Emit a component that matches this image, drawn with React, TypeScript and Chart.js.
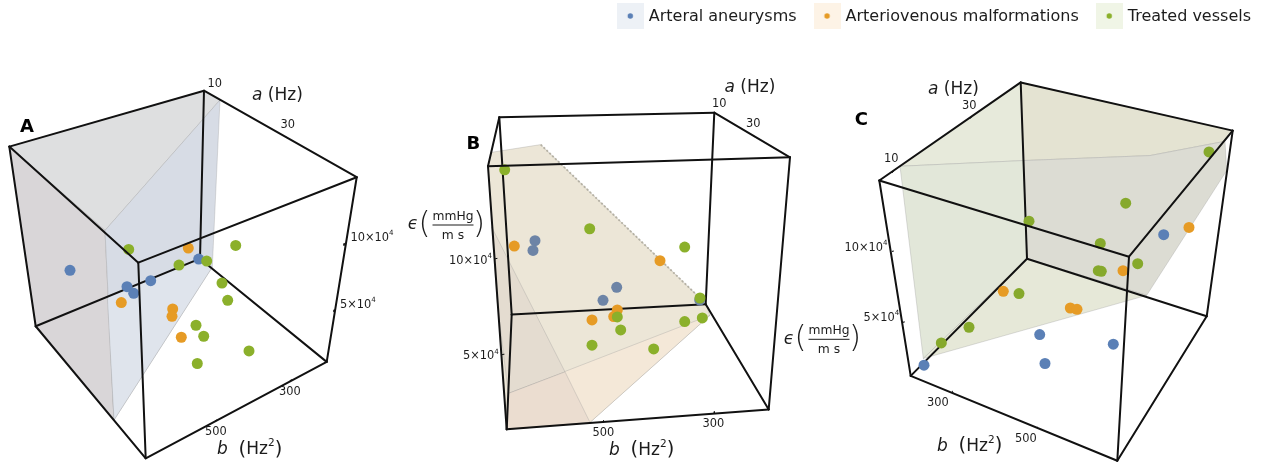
import React, { useEffect, useRef } from "react";
import { Chart, registerables } from "chart.js";

Chart.register(...registerables);

type Pt = [number, number];

const seriesNames = ["Arteral aneurysms", "Arteriovenous malformations", "Treated vessels"];
const seriesColors = ["#5b80b6", "#e69b25", "#8bb02b"];
const swatchColors = ["#edf1f6", "#fdf3e6", "#f0f5e6"];

// Projected positions (screen-plane coordinates)
const panelAAneurysms: Pt[] = [[70, 270], [127, 286.3], [133.7, 293], [150.7, 280.3], [198.7, 258.7]];
const panelAMalformations: Pt[] = [[121.3, 302.3], [172.7, 308.7], [172, 316], [181.3, 337], [188.3, 247.7]];
const panelATreated: Pt[] = [[128.7, 249], [179, 264.7], [206.7, 260.7], [235.7, 245], [222, 282.7], [227.7, 300], [196, 325], [203.7, 336], [249, 350.7], [197.3, 363.3]];

const panelBAneurysms: Pt[] = [[535, 240.3], [533, 250], [616.7, 287], [603, 300], [699.7, 299.7]];
const panelBMalformations: Pt[] = [[514.3, 245.7], [660, 260.3], [617.3, 309.7], [613.7, 316.3], [592, 319.7]];
const panelBTreated: Pt[] = [[504.7, 169.3], [589.7, 228.3], [684.7, 246.7], [700, 297.7], [617.3, 316.7], [620.7, 329.7], [684.7, 321.3], [702.3, 317.7], [592, 345], [653.7, 348.7]];

const panelCAneurysms: Pt[] = [[924, 365], [1039.7, 334.3], [1045, 363.3], [1113.3, 344], [1163.7, 234.3]];
const panelCMalformations: Pt[] = [[1003.3, 291], [1070.3, 307.7], [1077, 309], [1123, 270.3], [1189, 227]];
const panelCTreated: Pt[] = [[941.3, 342.7], [969, 327], [1019, 293.3], [1029, 220.7], [1125.7, 202.7], [1100.3, 243], [1098.3, 270.3], [1101.3, 271], [1137.7, 263.3], [1209, 151.3]];

// Box edges: back edges go under the points, front edges over them
const backEdges: Pt[][] = [
  [[9.3, 146], [204, 90]], [[204, 90], [356.7, 176.7]], [[204, 90], [200, 258.3]], [[35.7, 326], [200, 258.3]], [[200, 258.3], [326.7, 361.7]], [[9.3, 146], [35.7, 326]], [[356.7, 176.7], [326.7, 361.7]],
  [[499.3, 116.7], [714.3, 112]], [[714.3, 112], [790, 156.7]], [[488, 165.7], [499.3, 116.7]], [[499.3, 116.7], [511.7, 314.3]], [[714.3, 112], [705.7, 304]], [[511.7, 314.3], [705.7, 304]], [[511.7, 314.3], [506.7, 429.3]], [[705.7, 304], [768.7, 409.3]],
  [[879.3, 180], [1020.7, 81.7]], [[1020.7, 81.7], [1232.7, 130]], [[1020.7, 81.7], [1027, 258.3]], [[910.7, 375.7], [1027, 258.3]], [[1027, 258.3], [1206.7, 316]], [[1232.7, 130], [1206.7, 316]], [[879.3, 180], [910.7, 375.7]],
];
const frontEdges: Pt[][] = [
  [[356.7, 176.7], [138.3, 262.3]], [[138.3, 262.3], [9.3, 146]], [[138.3, 262.3], [145.7, 458.3]], [[35.7, 326], [145.7, 458.3]], [[145.7, 458.3], [326.7, 361.7]],
  [[790, 156.7], [488, 165.7]], [[488, 165.7], [506.7, 429.3]], [[790, 156.7], [768.7, 409.3]], [[506.7, 429.3], [768.7, 409.3]],
  [[1232.7, 130], [1129, 256.3]], [[1129, 256.3], [879.3, 180]], [[1129, 256.3], [1117.3, 460.7]], [[1206.7, 316], [1117.3, 460.7]], [[1117.3, 460.7], [910.7, 375.7]],
];
const tickMarks: Pt[][] = [
  [[286.5, 136.5], [288, 138]], [[344.5, 243], [344, 245]], [[334.5, 309.5], [334, 311.5]], [[291.5, 379.5], [290, 380.5]], [[216.5, 420], [215, 421]],
  [[753, 135], [754.5, 136]], [[497, 258], [495, 258.5]], [[504, 354], [502, 354.5]], [[603.5, 420.5], [603.5, 422]], [[714.3, 411.5], [714.3, 413]],
  [[970, 117.5], [971.5, 116.5]], [[892, 172], [893.5, 171]], [[892, 251], [893.5, 250.7]], [[903, 322], [904.5, 321.7]], [[952, 391], [953, 392]], [[1037, 427], [1038, 428]],
];

// Translucent surfaces, flattened to the colours seen on screen
const surfacePolygons: { pts: Pt[]; color: string }[] = [
  { pts: [[9.3, 146], [204, 90], [220, 99.3], [105, 230]], color: "#dedfe0" },
  { pts: [[9.3, 146], [105, 230], [114, 420], [35.7, 326]], color: "#d9d6d8" },
  { pts: [[105, 230], [220, 99.3], [212.3, 266.7], [114, 420]], color: "#d7dce5" },
  { pts: [[107.3, 296], [200, 258.3], [212.3, 266.7], [114, 420]], color: "#dfe4ec" },
  { pts: [[488, 165.7], [491.7, 151.7], [540.7, 144], [705.7, 303.3], [710, 315], [590, 422.3], [506.7, 429.3]], color: "#ece6d7" },
  { pts: [[508.3, 393.3], [710, 315], [590, 422.3], [506.7, 429.3]], color: "#f4e8d8" },
  { pts: [[491.7, 226.7], [565, 371.7], [508.3, 393.3], [497, 300]], color: "#e4dcd0" },
  { pts: [[508.3, 393.3], [565, 371.7], [590, 422.3], [506.7, 429.3]], color: "#ebddd0" },
  { pts: [[900, 165.7], [1023.3, 160], [1020.7, 81.7]], color: "#e7eadb" },
  { pts: [[1020.7, 81.7], [1232.7, 130], [1225, 140.7], [1150, 155], [1023.3, 160]], color: "#e4e3d2" },
  { pts: [[1023.3, 160], [1150, 155], [1225, 140.7], [1226.7, 170], [1146.7, 295], [1027, 258.3]], color: "#dcdcd3" },
  { pts: [[900, 165.7], [1023.3, 160], [1027, 258.3], [923.3, 358.3]], color: "#e2e7d9" },
  { pts: [[1027, 258.3], [1146.7, 295], [923.3, 358.3]], color: "#e6e8d8" },
];
const dottedEdge: Pt[] = [[540.7, 144], [705.7, 303.3]];

type Run = { t: string; it?: boolean; sup?: boolean; big?: boolean };
const tickLabels: { runs: Run[]; x: number; y: number }[] = [
  { runs: [{ t: "10" }], x: 207.5, y: 84 }, { runs: [{ t: "30" }], x: 280.5, y: 125 },
  { runs: [{ t: "300" }], x: 279, y: 392 }, { runs: [{ t: "500" }], x: 205, y: 432 },
  { runs: [{ t: "10×10" }, { t: "4", sup: true }], x: 350.5, y: 238 }, { runs: [{ t: "5×10" }, { t: "4", sup: true }], x: 340, y: 305 },
  { runs: [{ t: "10" }], x: 712, y: 103.7 }, { runs: [{ t: "30" }], x: 746, y: 124 },
  { runs: [{ t: "500" }], x: 592.5, y: 432.7 }, { runs: [{ t: "300" }], x: 702.5, y: 424.3 },
  { runs: [{ t: "10×10" }, { t: "4", sup: true }], x: 449, y: 261 }, { runs: [{ t: "5×10" }, { t: "4", sup: true }], x: 463, y: 356.5 },
  { runs: [{ t: "30" }], x: 962, y: 105.7 }, { runs: [{ t: "10" }], x: 884, y: 159.3 },
  { runs: [{ t: "300" }], x: 927, y: 402.7 }, { runs: [{ t: "500" }], x: 1015, y: 438.7 },
  { runs: [{ t: "10×10" }, { t: "4", sup: true }], x: 844.5, y: 248 }, { runs: [{ t: "5×10" }, { t: "4", sup: true }], x: 863.5, y: 318 },
];
const axisA: Run[] = [{ t: "a", it: true }, { t: " (Hz)" }];
const axisB: Run[] = [{ t: "b", it: true }, { t: "  " }, { t: "(", big: true }, { t: "Hz" }, { t: "2", sup: true }, { t: ")", big: true }];
const axisLabels: { runs: Run[]; x: number; y: number }[] = [
  { runs: axisA, x: 252, y: 96 }, { runs: axisB, x: 217, y: 450 },
  { runs: axisA, x: 724.5, y: 87.7 }, { runs: axisB, x: 609, y: 450.7 },
  { runs: axisA, x: 928, y: 89.3 }, { runs: axisB, x: 937, y: 446.7 },
];
const panelLetters: { t: string; x: number; y: number }[] = [
  { t: "A", x: 27, y: 127 }, { t: "B", x: 473.3, y: 144 }, { t: "C", x: 861.3, y: 120 },
];
const epsilonLabels: Pt[] = [[413, 225], [789, 339.3]];

const FONT = '"DejaVu Sans"';
const INK = "#1c1c1c";

function drawRuns(ctx: CanvasRenderingContext2D, runs: Run[], x: number, y: number, size: number) {
  let cx = x;
  ctx.textAlign = "left";
  ctx.textBaseline = "middle";
  ctx.fillStyle = INK;
  for (const r of runs) {
    const s = r.sup ? size * 0.62 : r.big ? size * 1.15 : size;
    ctx.font = `${r.it ? "italic " : ""}${s}px ${FONT}`;
    ctx.fillText(r.t, cx, r.sup ? y - size * 0.38 : r.big ? y - size * 0.02 : y);
    cx += ctx.measureText(r.t).width;
  }
}

const textPlugin = {
  id: "panelText",
  afterDatasetsDraw(chart: Chart) {
    const ctx = chart.ctx;
    ctx.save();
    for (const l of tickLabels) drawRuns(ctx, l.runs, l.x, l.y, 11.4);
    for (const l of axisLabels) drawRuns(ctx, l.runs, l.x, l.y, 17);
    ctx.textAlign = "center";
    ctx.textBaseline = "middle";
    ctx.fillStyle = "#000";
    ctx.font = `bold 18px ${FONT}`;
    for (const l of panelLetters) ctx.fillText(l.t, l.x, l.y);
    for (const [ex, ey] of epsilonLabels) {
      ctx.fillStyle = INK;
      ctx.textAlign = "center";
      ctx.font = `italic 17px ${FONT}`;
      ctx.fillText("ϵ", ex, ey);
      ctx.font = `200 31px ${FONT}`;
      ctx.fillText("(", ex + 11.5, ey - 0.5);
      ctx.fillText(")", ex + 66, ey - 0.5);
      ctx.font = `12.3px ${FONT}`;
      ctx.fillText("mmHg", ex + 40, ey - 8);
      ctx.fillText("m s", ex + 40, ey + 10.5);
      ctx.fillRect(ex + 19.5, ey - 0.5, 41, 1);
    }
    ctx.restore();
  },
};

function legendMarker(swatch: string, dot: string) {
  const c = document.createElement("canvas");
  c.width = 27;
  c.height = 28;
  const g = c.getContext("2d")!;
  g.fillStyle = swatch;
  g.fillRect(0, 0, 27, 26);
  g.fillStyle = dot;
  g.beginPath();
  g.arc(13.5, 13, 2.7, 0, Math.PI * 2);
  g.fill();
  return c;
}

const toXY = (p: Pt[]) => p.map(([x, y]) => ({ x, y }));
const lineSet = (pts: Pt[], color: string, width: number, extra: object = {}) => ({
  type: "line" as const, data: toXY(pts), borderColor: color, borderWidth: width,
  pointRadius: 0, tension: 0, fill: false, borderCapStyle: "round" as const, ...extra,
});
const pointSet = (pts: Pt[], color: string, label: string) => ({
  type: "scatter" as const, label, data: toXY(pts), backgroundColor: color, borderWidth: 0,
  pointBorderWidth: 0, pointRadius: 5.5, pointHoverRadius: 5.5,
});

export default function App() {
  const ref = useRef<HTMLCanvasElement>(null);
  useEffect(() => {
    const layers: any[] = [
      ...surfacePolygons.map((s) =>
        lineSet([...s.pts, s.pts[0]], "rgba(150,150,150,0.45)", 0.7, { fill: "shape", backgroundColor: s.color })
      ),
      lineSet(dottedEdge, "#b5b1a4", 1.8, { borderDash: [2, 2], borderCapStyle: "butt" }),
      ...backEdges.map((e) => lineSet(e, "#111", 2)),
      ...tickMarks.map((e) => lineSet(e, "#111", 1)),
      pointSet(panelAAneurysms, seriesColors[0], seriesNames[0]),
      pointSet(panelBAneurysms, "#6d84a6", seriesNames[0]),
      pointSet(panelCAneurysms, seriesColors[0], seriesNames[0]),
      pointSet(panelAMalformations, seriesColors[1], seriesNames[1]),
      pointSet(panelBMalformations, seriesColors[1], seriesNames[1]),
      pointSet(panelCMalformations, seriesColors[1], seriesNames[1]),
      pointSet(panelATreated, seriesColors[2], seriesNames[2]),
      pointSet(panelBTreated, seriesColors[2], seriesNames[2]),
      pointSet(panelCTreated, "#86a92c", seriesNames[2]),
      ...frontEdges.map((e) => lineSet(e, "#111", 2)),
    ];
    const markers = seriesNames.map((_, i) => legendMarker(swatchColors[i], seriesColors[i]));
    const chart = new Chart(ref.current!, {
      type: "scatter",
      data: { datasets: layers.reverse() },
      options: {
        animation: false,
        responsive: false,
        layout: { autoPadding: false, padding: { top: -11, right: -4, left: 0, bottom: 0 } },
        events: [],
        scales: {
          x: { type: "linear", min: 0, max: 1267, display: false },
          y: { type: "linear", min: 34.2, max: 464, reverse: true, display: false },
        },
        plugins: {
          tooltip: { enabled: false },
          legend: {
            display: true,
            position: "top",
            align: "end",
            labels: {
              usePointStyle: true,
              pointStyleWidth: 21,
              padding: 20,
              color: INK,
              font: { family: FONT, size: 16 },
              generateLabels: () =>
                seriesNames.map((text, i) => ({
                  text, pointStyle: markers[i], fontColor: INK, lineWidth: 0, hidden: false, datasetIndex: i,
                })) as any,
            },
          },
        },
      },
      plugins: [textPlugin],
    } as any);
    return () => chart.destroy();
  }, []);
  return (
    <div style={{ position: "fixed", left: 0, top: 0, width: 1267, height: 464 }}>
      <canvas ref={ref} width={1267} height={464} style={{ display: "block" }} />
    </div>
  );
}
